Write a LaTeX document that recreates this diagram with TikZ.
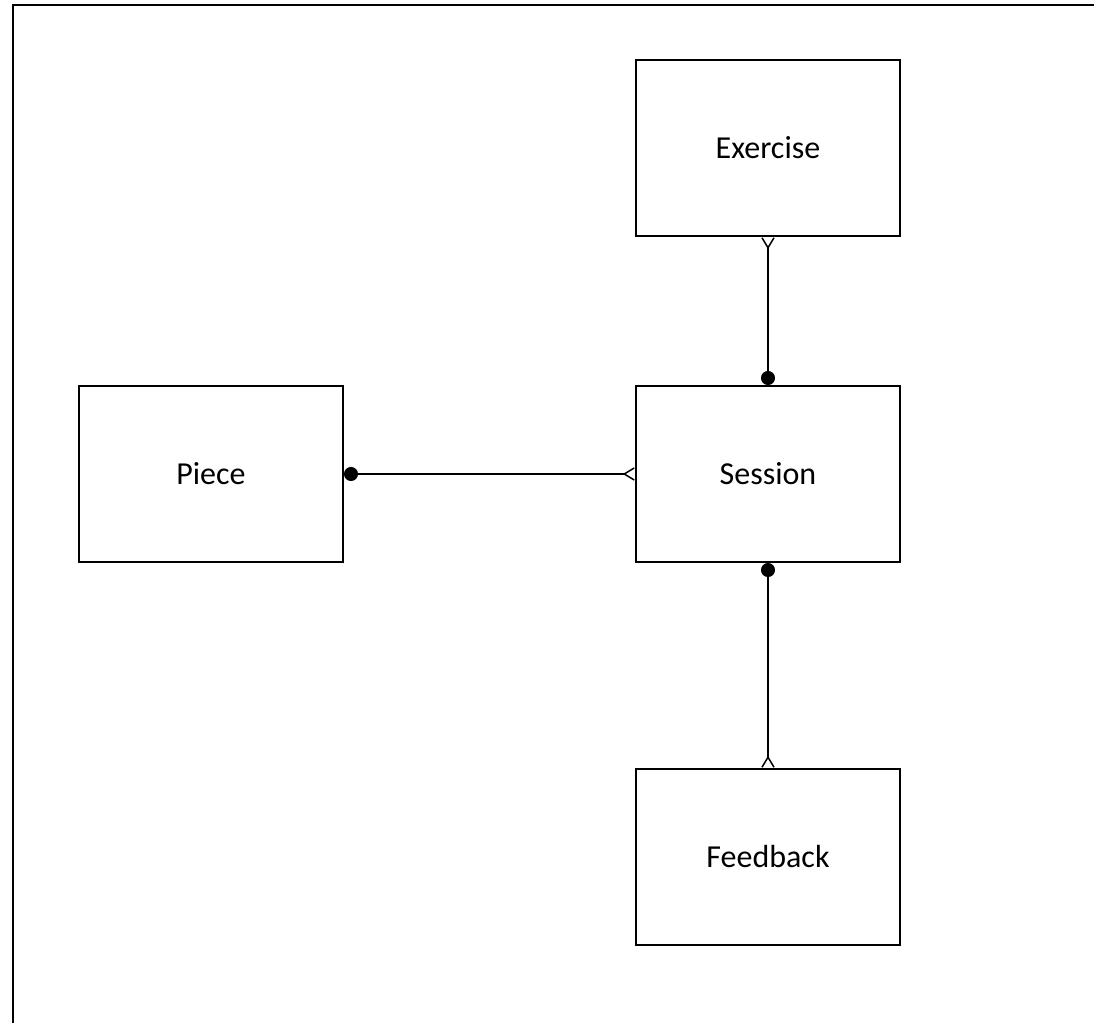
\documentclass[tikz,border=0pt]{standalone}
\usepackage{fontspec}
\setmainfont{Carlito}
\usetikzlibrary{arrows.meta,positioning}

\begin{document}
\begin{tikzpicture}[
	x=1pt, y=1pt,
	font=\fontsize{16}{18}\selectfont,
		entity/.style={
			rectangle,
			draw,
			line width=1pt,
			minimum width=132pt,
			minimum height=88pt,
			align=center
		},
		rel/.style={
			line width=0.75pt,
			{Circle[length=7pt]}-{Straight Barb[reversed,length=5pt,width=6pt,line width=0.75pt]}
		},
		frame/.style={
			line width=1.2pt
		}
	]
	\useasboundingbox (0,0) rectangle (547,-511.5);
	% Outer frame
	\coordinate (fbl) at (6.5,-511.5);
	\coordinate (ftl) at (6.5,-2.5);
	\coordinate (ftr) at (547,-2.5);
	\draw[frame] (fbl) -- (ftl) -- (ftr);
	% Entities
	\node[entity] (session) at (384,-237) {Session};
	\node[entity, above=74pt of session] (exercise) {Exercise};
	\node[entity, left=145.5pt of session] (piece) {Piece};
	\node[entity, below=102.5pt of session] (feedback) {Feedback};
	% Relationships
	\draw[rel] (session) -- (exercise);
	\draw[rel] (piece) -- (session);
	\draw[rel] (session) -- (feedback);
\end{tikzpicture}
\end{document}
